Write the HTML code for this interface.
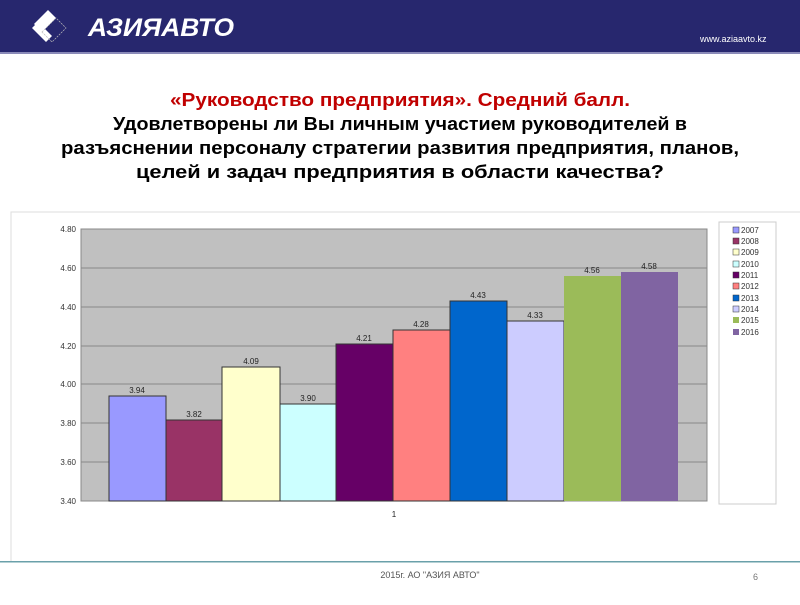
<!DOCTYPE html>
<html><head><meta charset="utf-8"><style>
body{margin:0;width:800px;height:600px;background:#fff;overflow:hidden;font-family:"Liberation Sans",sans-serif;}
</style></head><body>
<svg width="800" height="600" xmlns="http://www.w3.org/2000/svg" font-family="Liberation Sans, sans-serif">
<rect x="0" y="0" width="800" height="52" fill="#27276e"/>
<rect x="0" y="52" width="800" height="2" fill="#8a8ab8"/>
<polygon points="34,24 48,10 56,18 42,32" fill="#fff"/>
<polygon points="32,28 46,42 52,36 38,22" fill="#fff"/>
<polygon points="42,32 56,18 66,28 52,42" fill="none" stroke="#bbb" stroke-width="0.7" stroke-dasharray="2,1"/>
<text x="88" y="36" font-size="25" font-weight="bold" font-style="italic" fill="#fff" textLength="146" lengthAdjust="spacingAndGlyphs">АЗИЯАВТО</text>
<text x="700" y="42" font-size="9" fill="#fff">www.aziaavto.kz</text>
<g font-size="18.5" font-weight="bold" fill="#000" text-anchor="middle">
<text x="400" y="106" fill="#c00000" textLength="460" lengthAdjust="spacingAndGlyphs">«Руководство предприятия». Средний балл.</text>
<text x="400" y="130" textLength="574" lengthAdjust="spacingAndGlyphs">Удовлетворены ли Вы личным участием руководителей в</text>
<text x="400" y="154" textLength="678" lengthAdjust="spacingAndGlyphs">разъяснении персоналу стратегии развития предприятия, планов,</text>
<text x="400" y="178" textLength="528" lengthAdjust="spacingAndGlyphs">целей и задач предприятия в области качества?</text>
</g>
<rect x="11" y="212" width="800" height="350" fill="#fff" stroke="#ddd"/>
<rect x="81" y="229" width="626" height="272" fill="#c0c0c0" stroke="#888"/>
<g stroke="#888" stroke-width="1">
<line x1="81" y1="268" x2="707" y2="268"/><line x1="81" y1="307" x2="707" y2="307"/>
<line x1="81" y1="346" x2="707" y2="346"/><line x1="81" y1="384" x2="707" y2="384"/>
<line x1="81" y1="423" x2="707" y2="423"/><line x1="81" y1="462" x2="707" y2="462"/>
</g>
<g font-size="8" fill="#333" text-anchor="end">
<text x="76" y="232">4.80</text><text x="76" y="271">4.60</text><text x="76" y="310">4.40</text>
<text x="76" y="349">4.20</text><text x="76" y="387">4.00</text><text x="76" y="426">3.80</text>
<text x="76" y="465">3.60</text><text x="76" y="504">3.40</text>
</g>
<g stroke="#333" stroke-width="1">
<rect x="109" y="396" width="57" height="105" fill="#9999ff"/>
<rect x="166" y="420" width="56" height="81" fill="#993366"/>
<rect x="222" y="367" width="58" height="134" fill="#ffffcc"/>
<rect x="280" y="404" width="56" height="97" fill="#ccffff"/>
<rect x="336" y="344" width="57" height="157" fill="#660066"/>
<rect x="393" y="330" width="57" height="171" fill="#ff8080"/>
<rect x="450" y="301" width="57" height="200" fill="#0066cc"/>
<rect x="507" y="321" width="57" height="180" fill="#ccccff"/>
<rect x="564" y="276" width="57" height="225" fill="#9bbb59" stroke="none"/>
<rect x="621" y="272" width="57" height="229" fill="#8064a2" stroke="none"/>
</g>
<g font-size="8" fill="#222" text-anchor="middle">
<text x="137" y="393">3.94</text><text x="194" y="417">3.82</text><text x="251" y="364">4.09</text>
<text x="308" y="401">3.90</text><text x="364" y="341">4.21</text><text x="421" y="327">4.28</text>
<text x="478" y="298">4.43</text><text x="535" y="318">4.33</text><text x="592" y="273">4.56</text>
<text x="649" y="269">4.58</text><text x="394" y="517">1</text>
</g>
<rect x="719" y="222" width="57" height="282" fill="#fff" stroke="#ccc"/>
<g font-size="8" fill="#333">
<rect x="733" y="227" width="6" height="6" fill="#9999ff" stroke="#333" stroke-width="0.5"/><text x="741" y="233">2007</text>
<rect x="733" y="238" width="6" height="6" fill="#993366" stroke="#333" stroke-width="0.5"/><text x="741" y="244">2008</text>
<rect x="733" y="249" width="6" height="6" fill="#ffffcc" stroke="#333" stroke-width="0.5"/><text x="741" y="255">2009</text>
<rect x="733" y="261" width="6" height="6" fill="#ccffff" stroke="#333" stroke-width="0.5"/><text x="741" y="267">2010</text>
<rect x="733" y="272" width="6" height="6" fill="#660066" stroke="#333" stroke-width="0.5"/><text x="741" y="278">2011</text>
<rect x="733" y="283" width="6" height="6" fill="#ff8080" stroke="#333" stroke-width="0.5"/><text x="741" y="289">2012</text>
<rect x="733" y="295" width="6" height="6" fill="#0066cc" stroke="#333" stroke-width="0.5"/><text x="741" y="301">2013</text>
<rect x="733" y="306" width="6" height="6" fill="#ccccff" stroke="#333" stroke-width="0.5"/><text x="741" y="312">2014</text>
<rect x="733" y="317" width="6" height="6" fill="#9bbb59"/><text x="741" y="323">2015</text>
<rect x="733" y="329" width="6" height="6" fill="#8064a2"/><text x="741" y="335">2016</text>
</g>
<rect x="0" y="561" width="800" height="1.5" fill="#6aa0aa"/>
<text x="430" y="578" font-size="9" fill="#555" text-anchor="middle">2015г. АО "АЗИЯ АВТО"</text>
<text x="753" y="580" font-size="9" fill="#777">6</text>
</svg>
</body></html>
